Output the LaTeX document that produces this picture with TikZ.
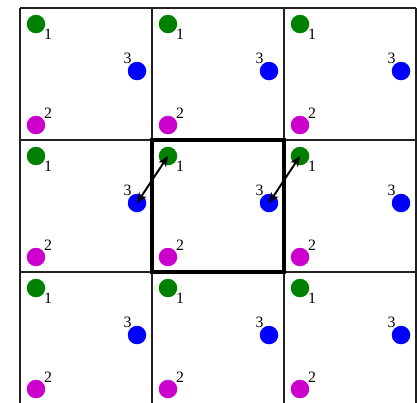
\documentclass[tikz,border=0pt]{standalone}
\usepackage{fontspec}
\setmainfont{Liberation Serif}
\usetikzlibrary{arrows.meta}
\definecolor{dotgreen}{HTML}{008000}
\definecolor{dotblue}{HTML}{0000FF}
\definecolor{dotmagenta}{HTML}{CC00CC}
\definecolor{gridline}{HTML}{222222}

\begin{document}
\begin{tikzpicture}[font=\small,
  dot/.style={circle, inner sep=0pt, minimum size=0.37cm},
  lbl/.style={inner sep=0pt, font=\small},
  bond/.style={{Stealth[length=6pt,width=5pt]}-{Stealth[length=6pt,width=5pt]}, line width=1.1pt}]
\useasboundingbox (0,0) rectangle (8.38,-8.04);
\clip (0,0) rectangle (8.38,-8.04);
% grid of unit cells
\foreach \k in {0,...,3} {
  \draw[gridline, line width=0.8pt] (0.4+2.64*\k,-0.16) -- (0.4+2.64*\k,-8.3);
  \draw[gridline, line width=0.8pt] (0.4,-0.16-2.64*\k) -- (8.32,-0.16-2.64*\k);
}
% three sites in every cell
\foreach \i in {0,1,2} {
  \foreach \j in {0,1,2} {
    \coordinate (c-\i-\j) at (0.4+2.64*\i,-0.16-2.64*\j);
    \node[dot, fill=dotgreen] (g-\i-\j) at ([shift={(0.32,-0.32)}]c-\i-\j) {};
    \node[dot, fill=dotblue] (b-\i-\j) at ([shift={(2.34,-1.26)}]c-\i-\j) {};
    \node[dot, fill=dotmagenta] (m-\i-\j) at ([shift={(0.32,-2.34)}]c-\i-\j) {};
    \node[lbl] (lg-\i-\j) at ([shift={(0.24,-0.2)}]g-\i-\j) {1};
    \node[lbl] (lb-\i-\j) at ([shift={(-0.19,0.25)}]b-\i-\j) {3};
    \node[lbl] (lm-\i-\j) at ([shift={(0.24,0.24)}]m-\i-\j) {2};
  }
}
% reference cell
\draw[line width=2.3pt] (c-1-1) rectangle (c-2-2);
% bonds to the neighbouring cell
\draw[bond] (b-0-1.center) -- (g-1-1.center);
\draw[bond] (b-1-1.center) -- (g-2-1.center);
\end{tikzpicture}
\end{document}
